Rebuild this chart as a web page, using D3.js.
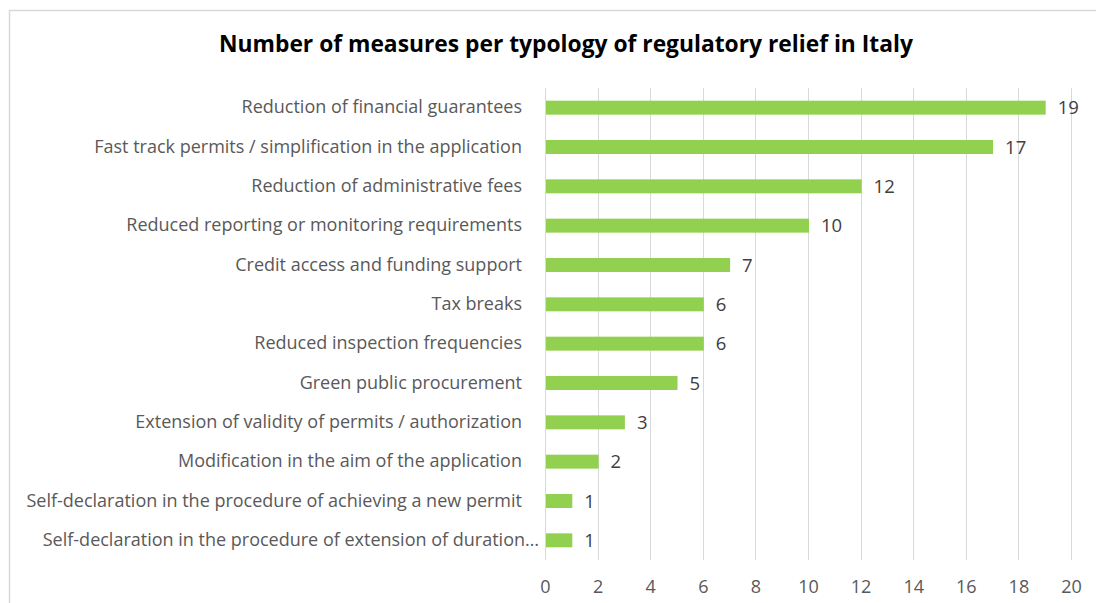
<!DOCTYPE html>
<html>
<head>
<meta charset="utf-8">
<script src="https://cdn.jsdelivr.net/npm/d3@7"></script>
<style>
  html, body { margin: 0; padding: 0; background: #fff; }
  svg { display: block; }
  text { font-family: "Open Sans", sans-serif; }
</style>
</head>
<body>
<svg id="chart" width="1096" height="603"></svg>
<script>
// Typologies of regulatory relief, top to bottom
const categories = [
  "Reduction of financial guarantees",
  "Fast track permits / simplification in the application",
  "Reduction of administrative fees",
  "Reduced reporting or monitoring requirements",
  "Credit access and funding support",
  "Tax breaks",
  "Reduced inspection frequencies",
  "Green public procurement",
  "Extension of validity of permits / authorization",
  "Modification in the aim of the application",
  "Self-declaration in the procedure of achieving a new permit",
  "Self-declaration in the procedure of extension of duration…"
];
// Number of measures per typology
const measures = [19, 17, 12, 10, 7, 6, 6, 5, 3, 2, 1, 1];
// Axis ticks
const xTicks = [0, 2, 4, 6, 8, 10, 12, 14, 16, 18, 20];

const title = "Number of measures per typology of regulatory relief in Italy";

const FONT = "'Open Sans', sans-serif";
const svg = d3.select("#chart");

// Chart area frame
svg.append("rect")
  .attr("x", 9.5).attr("y", 10.5)
  .attr("width", 1096).attr("height", 603)
  .attr("fill", "#fff")
  .attr("stroke", "#d9d9d9")
  .attr("stroke-width", 1.5);

const plot = { left: 545, right: 1071, top: 88, bottom: 560 };

const x = d3.scaleLinear().domain([0, 20]).range([plot.left, plot.right]);
const y = d3.scaleBand().domain(categories).range([plot.top, plot.bottom]).paddingInner(0.645).paddingOuter(0.3225);

// Title
svg.append("text")
  .attr("x", 566).attr("y", 52)
  .attr("text-anchor", "middle")
  .attr("font-size", 22.8)
  .attr("font-weight", "bold")
  .attr("fill", "#000")
  .text(title);

// Vertical gridlines
svg.append("g")
  .selectAll("line")
  .data(xTicks)
  .join("line")
  .attr("x1", d => Math.round(x(d)) + 0.5)
  .attr("x2", d => Math.round(x(d)) + 0.5)
  .attr("y1", plot.top)
  .attr("y2", plot.bottom)
  .attr("stroke", "#d9d9d9")
  .attr("stroke-width", 1);

// X axis tick labels
const xAxis = d3.axisBottom(x).tickValues(xTicks).tickSize(0).tickPadding(0);
const gx = svg.append("g")
  .attr("transform", `translate(0, ${plot.bottom + 20})`)
  .call(xAxis);
gx.select(".domain").remove();
gx.selectAll("text")
  .attr("font-family", FONT)
  .attr("font-size", 18)
  .attr("fill", "#595959");

// Category labels (truncated names run a little closer to the bars)
const yAxis = d3.axisLeft(y).tickSize(0).tickPadding(0);
const gy = svg.append("g")
  .attr("transform", `translate(${plot.left}, 0)`)
  .call(yAxis);
gy.select(".domain").remove();
gy.selectAll("text")
  .attr("font-family", FONT)
  .attr("font-size", 18)
  .attr("fill", "#595959")
  .attr("x", d => d.endsWith("…") ? -6 : -23);

// Bars
svg.append("g")
  .selectAll("rect")
  .data(measures)
  .join("rect")
  .attr("x", x(0) + 1)
  .attr("y", (d, i) => y(categories[i]))
  .attr("width", d => x(d) - x(0))
  .attr("height", y.bandwidth())
  .attr("fill", "#92d050");

// Value labels
svg.append("g")
  .selectAll("text")
  .data(measures)
  .join("text")
  .attr("x", d => x(d) + 13)
  .attr("y", (d, i) => y(categories[i]) + y.bandwidth() / 2)
  .attr("dy", "0.36em")
  .attr("font-size", 18.5)
  .attr("fill", "#404040")
  .text(d => d);
</script>
</body>
</html>
